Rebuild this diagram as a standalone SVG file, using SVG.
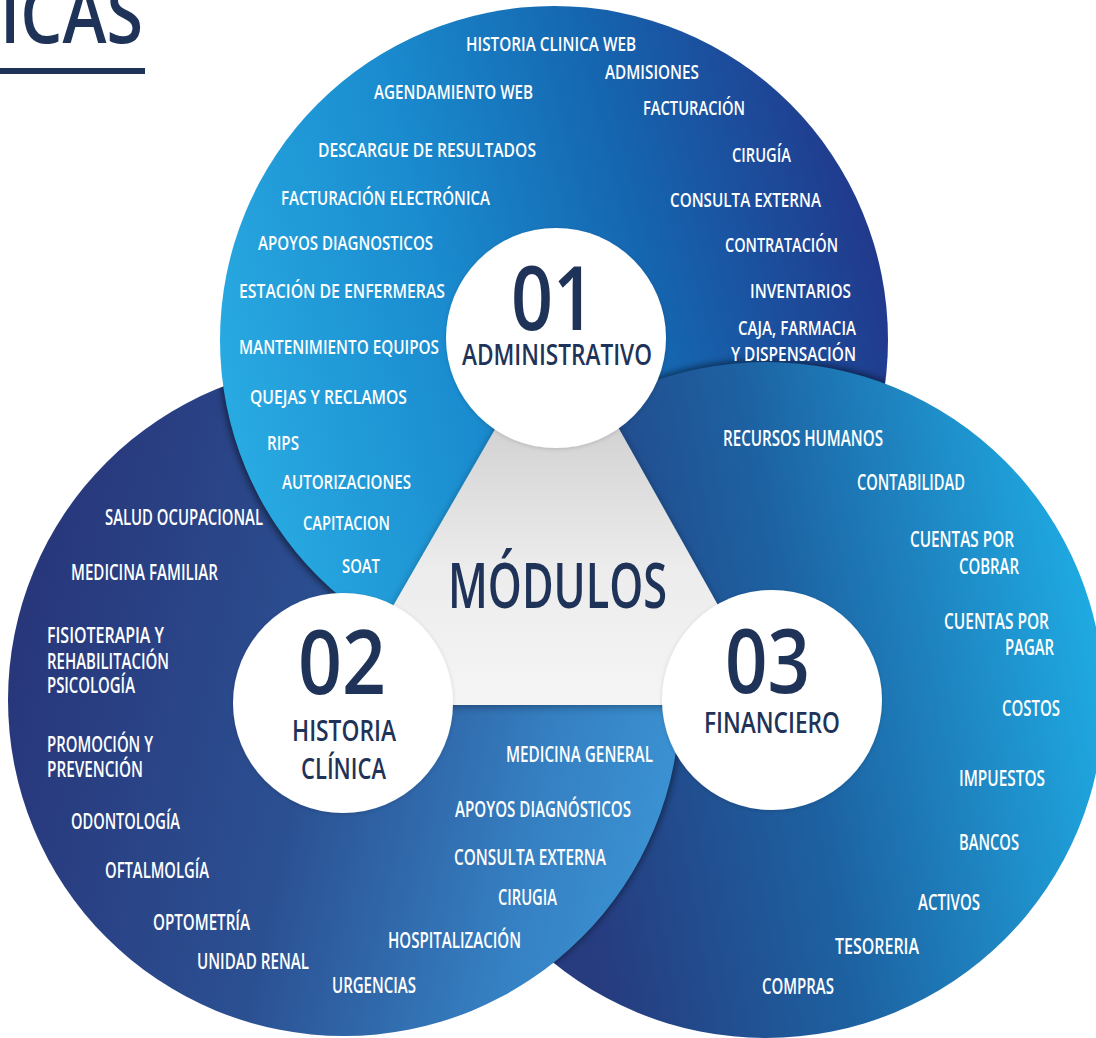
<svg xmlns="http://www.w3.org/2000/svg" width="1096" height="1038" viewBox="0 0 1096 1038">
<defs>
<style>
.lbl{font-family:"Open Sans","Liberation Sans",Arial,sans-serif;font-weight:600;fill:#ffffff}
.t{font-size:19.5px}
.lr{font-size:21px}
.big{font-family:"Open Sans","Liberation Sans",Arial,sans-serif;font-weight:600;fill:#1f3358}
</style>
<linearGradient id="gT" gradientUnits="userSpaceOnUse" x1="220" y1="420" x2="888" y2="250">
<stop offset="0" stop-color="#29abe2"/><stop offset="0.35" stop-color="#1a8ccf"/><stop offset="0.65" stop-color="#1566b0"/><stop offset="1" stop-color="#22378a"/>
</linearGradient>
<linearGradient id="gL" gradientUnits="userSpaceOnUse" x1="10" y1="650" x2="680" y2="800">
<stop offset="0" stop-color="#28367a"/><stop offset="0.45" stop-color="#2b5092"/><stop offset="0.8" stop-color="#3580c2"/><stop offset="1" stop-color="#3b93d3"/>
</linearGradient>
<linearGradient id="gR" gradientUnits="userSpaceOnUse" x1="560" y1="750" x2="1100" y2="650">
<stop offset="0" stop-color="#263c7f"/><stop offset="0.45" stop-color="#1d62a2"/><stop offset="1" stop-color="#1faae2"/>
</linearGradient>
<linearGradient id="gG" gradientUnits="userSpaceOnUse" x1="0" y1="430" x2="0" y2="705">
<stop offset="0" stop-color="#d3d3d3"/><stop offset="0.5" stop-color="#ececec"/><stop offset="1" stop-color="#f5f5f5"/>
</linearGradient>
<clipPath id="clipL"><circle cx="344" cy="700" r="336"/></clipPath>
<clipPath id="clipT"><circle cx="554" cy="340" r="334"/></clipPath>
<clipPath id="clipR"><circle cx="766" cy="700" r="338"/></clipPath>
<clipPath id="clipRx"><circle cx="766" cy="700" r="340"/></clipPath>
<filter id="soft" x="-10%" y="-10%" width="120%" height="120%"><feGaussianBlur stdDeviation="3"/></filter>
<filter id="triShadow" x="-20%" y="-20%" width="140%" height="140%"><feDropShadow dx="0" dy="2" stdDeviation="4" flood-color="#000" flood-opacity="0.35"/></filter>
<filter id="wShadow" x="-20%" y="-20%" width="140%" height="140%"><feDropShadow dx="0" dy="1" stdDeviation="2" flood-color="#000" flood-opacity="0.15"/></filter>
</defs>
<rect width="1096" height="1038" fill="#ffffff"/>

<g id="title">
<text class="big" x="0" y="43" font-size="80" textLength="143" lengthAdjust="spacingAndGlyphs">ICAS</text>
<rect x="0" y="68" width="145" height="6" fill="#1f3358"/>
</g>

<g id="venn-areas">
<circle cx="344" cy="700" r="336" fill="url(#gL)"/>
<g clip-path="url(#clipL)"><circle cx="554" cy="340" r="334" fill="#000" opacity="0.45" filter="url(#soft)" transform="translate(-2,3)"/></g>
<circle cx="554" cy="340" r="334" fill="url(#gT)"/>
<g clip-path="url(#clipT)"><circle cx="766" cy="700" r="338" fill="#000" opacity="0.45" filter="url(#soft)" transform="translate(0,-3)"/></g>
<circle cx="766" cy="700" r="338" fill="url(#gR)"/>
<g clip-path="url(#clipR)">
<circle cx="344" cy="700" r="336" fill="#000" opacity="0.4" filter="url(#soft)" transform="translate(3,-1)"/>
</g>
<g clip-path="url(#clipRx)">
<circle cx="344" cy="700" r="336" fill="url(#gL)"/>
</g>
</g>

<g id="connectors"></g>

<g id="node-modulos">
<polygon points="558,320 336,705 774,705" fill="url(#gG)" filter="url(#triShadow)"/>
<text class="big" x="448" y="608" font-size="63" textLength="219" lengthAdjust="spacingAndGlyphs">MÓDULOS</text>
</g>

<g id="node-01-administrativo">
<circle cx="556" cy="338" r="110" fill="#ffffff" filter="url(#wShadow)"/>
<text class="big" x="511" y="330" font-size="88" textLength="84" lengthAdjust="spacingAndGlyphs">01</text>
<text class="big" x="462" y="365" font-size="28" textLength="190" lengthAdjust="spacingAndGlyphs">ADMINISTRATIVO</text>
<g class="lbl t">
<text x="466" y="51" textLength="170" lengthAdjust="spacingAndGlyphs">HISTORIA CLINICA WEB</text>
<text x="605" y="79" textLength="94" lengthAdjust="spacingAndGlyphs">ADMISIONES</text>
<text x="374" y="99" textLength="159" lengthAdjust="spacingAndGlyphs">AGENDAMIENTO WEB</text>
<text x="643" y="115" textLength="102" lengthAdjust="spacingAndGlyphs">FACTURACIÓN</text>
<text x="318" y="157" textLength="218" lengthAdjust="spacingAndGlyphs">DESCARGUE DE RESULTADOS</text>
<text x="732" y="162" textLength="59" lengthAdjust="spacingAndGlyphs">CIRUGÍA</text>
<text x="281" y="205" textLength="209" lengthAdjust="spacingAndGlyphs">FACTURACIÓN ELECTRÓNICA</text>
<text x="670" y="207" textLength="151" lengthAdjust="spacingAndGlyphs">CONSULTA EXTERNA</text>
<text x="258" y="250" textLength="175" lengthAdjust="spacingAndGlyphs">APOYOS DIAGNOSTICOS</text>
<text x="725" y="252" textLength="113" lengthAdjust="spacingAndGlyphs">CONTRATACIÓN</text>
<text x="239" y="298" textLength="206" lengthAdjust="spacingAndGlyphs">ESTACIÓN DE ENFERMERAS</text>
<text x="750" y="298" textLength="101" lengthAdjust="spacingAndGlyphs">INVENTARIOS</text>
<text x="738" y="335" textLength="118" lengthAdjust="spacingAndGlyphs">CAJA, FARMACIA</text>
<text x="731" y="361" textLength="125" lengthAdjust="spacingAndGlyphs">Y DISPENSACIÓN</text>
<text x="239" y="354" textLength="200" lengthAdjust="spacingAndGlyphs">MANTENIMIENTO EQUIPOS</text>
<text x="250" y="404" textLength="157" lengthAdjust="spacingAndGlyphs">QUEJAS Y RECLAMOS</text>
<text x="267" y="450" textLength="32" lengthAdjust="spacingAndGlyphs">RIPS</text>
<text x="282" y="489" textLength="129" lengthAdjust="spacingAndGlyphs">AUTORIZACIONES</text>
<text x="303" y="530" textLength="87" lengthAdjust="spacingAndGlyphs">CAPITACION</text>
<text x="342" y="573" textLength="38" lengthAdjust="spacingAndGlyphs">SOAT</text>
</g>
</g>

<g id="node-02-historia-clinica">
<circle cx="343" cy="703" r="110" fill="#ffffff" filter="url(#wShadow)"/>
<text class="big" x="298" y="694" font-size="88" textLength="88" lengthAdjust="spacingAndGlyphs">02</text>
<text class="big" x="292" y="741" font-size="29" textLength="104" lengthAdjust="spacingAndGlyphs">HISTORIA</text>
<text class="big" x="301" y="779" font-size="29" textLength="85" lengthAdjust="spacingAndGlyphs">CLÍNICA</text>
<g class="lbl lr">
<text x="105" y="525" textLength="158" lengthAdjust="spacingAndGlyphs">SALUD OCUPACIONAL</text>
<text x="71" y="580" textLength="147" lengthAdjust="spacingAndGlyphs">MEDICINA FAMILIAR</text>
<text x="47" y="643" textLength="117" lengthAdjust="spacingAndGlyphs">FISIOTERAPIA Y</text>
<text x="47" y="669" textLength="122" lengthAdjust="spacingAndGlyphs">REHABILITACIÓN</text>
<text x="47" y="693" textLength="88" lengthAdjust="spacingAndGlyphs">PSICOLOGÍA</text>
<text x="47" y="752" textLength="106" lengthAdjust="spacingAndGlyphs">PROMOCIÓN Y</text>
<text x="47" y="777" textLength="96" lengthAdjust="spacingAndGlyphs">PREVENCIÓN</text>
<text x="71" y="829" textLength="109" lengthAdjust="spacingAndGlyphs">ODONTOLOGÍA</text>
<text x="105" y="878" textLength="104" lengthAdjust="spacingAndGlyphs">OFTALMOLGÍA</text>
<text x="153" y="930" textLength="97" lengthAdjust="spacingAndGlyphs">OPTOMETRÍA</text>
<text x="197" y="969" textLength="112" lengthAdjust="spacingAndGlyphs">UNIDAD RENAL</text>
<text x="332" y="993" textLength="84" lengthAdjust="spacingAndGlyphs">URGENCIAS</text>
<text x="388" y="948" textLength="133" lengthAdjust="spacingAndGlyphs">HOSPITALIZACIÓN</text>
<text x="498" y="905" textLength="59" lengthAdjust="spacingAndGlyphs">CIRUGIA</text>
<text x="454" y="865" textLength="152" lengthAdjust="spacingAndGlyphs">CONSULTA EXTERNA</text>
<text x="455" y="817" textLength="176" lengthAdjust="spacingAndGlyphs">APOYOS DIAGNÓSTICOS</text>
<text x="506" y="762" textLength="147" lengthAdjust="spacingAndGlyphs">MEDICINA GENERAL</text>
</g>
</g>

<g id="node-03-financiero">
<circle cx="772" cy="700" r="110" fill="#ffffff" filter="url(#wShadow)"/>
<text class="big" x="725" y="693" font-size="88" textLength="85" lengthAdjust="spacingAndGlyphs">03</text>
<text class="big" x="704" y="733" font-size="28" textLength="136" lengthAdjust="spacingAndGlyphs">FINANCIERO</text>
<g class="lbl lr">
<text x="723" y="446" textLength="160" lengthAdjust="spacingAndGlyphs">RECURSOS HUMANOS</text>
<text x="857" y="490" textLength="108" lengthAdjust="spacingAndGlyphs">CONTABILIDAD</text>
<text x="910" y="547" textLength="104" lengthAdjust="spacingAndGlyphs">CUENTAS POR</text>
<text x="959" y="574" textLength="60" lengthAdjust="spacingAndGlyphs">COBRAR</text>
<text x="944" y="629" textLength="105" lengthAdjust="spacingAndGlyphs">CUENTAS POR</text>
<text x="1005" y="655" textLength="49" lengthAdjust="spacingAndGlyphs">PAGAR</text>
<text x="1002" y="716" textLength="58" lengthAdjust="spacingAndGlyphs">COSTOS</text>
<text x="959" y="786" textLength="86" lengthAdjust="spacingAndGlyphs">IMPUESTOS</text>
<text x="959" y="850" textLength="60" lengthAdjust="spacingAndGlyphs">BANCOS</text>
<text x="918" y="910" textLength="62" lengthAdjust="spacingAndGlyphs">ACTIVOS</text>
<text x="835" y="954" textLength="84" lengthAdjust="spacingAndGlyphs">TESORERIA</text>
<text x="762" y="994" textLength="72" lengthAdjust="spacingAndGlyphs">COMPRAS</text>
</g>
</g>
</svg>
